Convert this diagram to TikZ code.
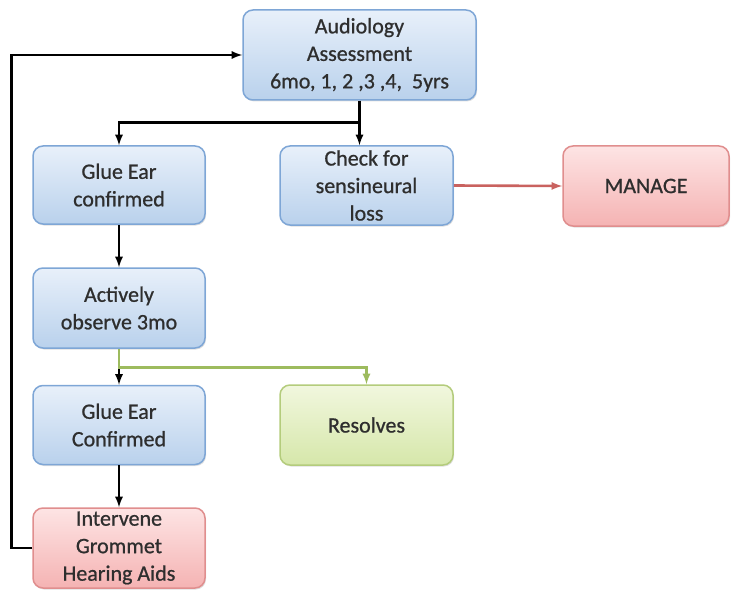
\documentclass[tikz,border=0pt]{standalone}
\usepackage{fontspec}
\setmainfont{Carlito}
\newfontfamily\boxfont[FakeBold=0.8]{Carlito}
\usepackage{xcolor}
\definecolor{myblueT}{HTML}{E8F0FA}
\definecolor{myblueB}{HTML}{B9D1EC}
\definecolor{myblueD}{HTML}{7EA6D6}
\definecolor{myredT}{HTML}{FDE4E4}
\definecolor{myredB}{HTML}{F5B3B3}
\definecolor{myredD}{HTML}{E08E8E}
\definecolor{mygreenT}{HTML}{F1F7DE}
\definecolor{mygreenB}{HTML}{D6E7AA}
\definecolor{mygreenD}{HTML}{B4CC7C}
\definecolor{mytext}{HTML}{2E2E2E}
\definecolor{redline}{HTML}{C9625F}
\definecolor{greenline}{HTML}{9DBB5E}
\usetikzlibrary{arrows,shapes,positioning,shadows,calc}

\begin{document}
\begin{tikzpicture}[x=1pt,y=-1pt,
    box/.style={rounded corners=10pt, line width=1.5pt, align=center, text=mytext,
        font=\boxfont\fontsize{22}{27.5}\selectfont, inner sep=0pt,
        drop shadow={shadow xshift=1pt, shadow yshift=-1.5pt, opacity=0.25}},
    bluebox/.style={box, draw=myblueD, top color=myblueT, bottom color=myblueB},
    redbox/.style={box, draw=myredD, top color=myredT, bottom color=myredB},
    greenbox/.style={box, draw=mygreenD, top color=mygreenT, bottom color=mygreenB},
    link/.style={-latex, line width=2.6pt, black}]
    \useasboundingbox (0,0) rectangle (731,591);

    \node[bluebox, minimum width=233pt, minimum height=90pt] (Audtext) at (359.5,55) {Audiology\\Assessment\\6mo, 1, 2 ,3 ,4,~ 5yrs};
    \node[bluebox, minimum width=172pt, minimum height=78pt] (Gluetext) at (119,185) {Glue Ear\\confirmed};
    \node[bluebox, minimum width=173pt, minimum height=79pt] (Checktext) at (366.5,185.5) {Check for\\sensineural\\loss};
    \node[redbox, minimum width=166pt, minimum height=80pt] (Mantext) at (646,186) {MANAGE};
    \node[bluebox, minimum width=172pt, minimum height=80pt] (Acttext) at (119,308) {Actively\\observe 3mo};
    \node[bluebox, minimum width=172pt, minimum height=79pt] (Glue2text) at (119,425) {Glue Ear\\Confirmed};
    \node[greenbox, minimum width=173pt, minimum height=80pt] (Restext) at (366.5,425) {Resolves};
    \node[redbox, minimum width=172pt, minimum height=80pt] (Inttext) at (119,548) {Intervene\\Grommet\\Hearing Aids};

    % split below the assessment
    \coordinate (split) at ($(Audtext.south)+(0,22)$);
    \draw[link] (Audtext.south) -- (split) -| (Gluetext.north);
    \draw[link] (split) -- (split |- Checktext.north);
    \draw[-latex, line width=2.6pt, redline] (Checktext.east) -- (Mantext.west);

    \draw[link] (Gluetext.south) -- (Acttext.north);

    % split below the observation
    \coordinate (gsplit) at ($(Acttext.south)+(0,19)$);
    \draw[link] (gsplit) -- (Glue2text.north);
    \draw[-latex, line width=2.6pt, greenline] (Acttext.south) -- (gsplit) -| (Restext.north);

    \draw[link] (Glue2text.south) -- (Inttext.north);
    \draw[link] (Inttext.west) -- ++(-21,0) |- (Audtext.west);
\end{tikzpicture}
\end{document}
